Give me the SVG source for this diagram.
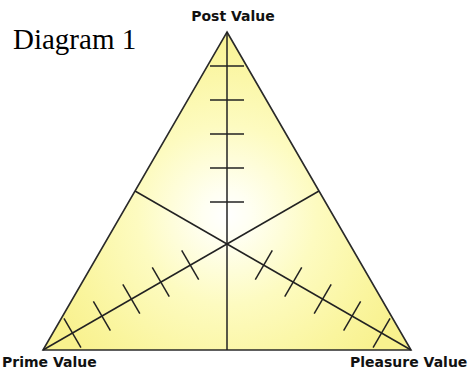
<svg xmlns="http://www.w3.org/2000/svg" width="470" height="372" viewBox="0 0 470 372">
  <defs>
    <radialGradient id="glow" gradientUnits="userSpaceOnUse" cx="227" cy="215" r="200">
      <stop offset="0" stop-color="#ffffff"/>
      <stop offset="0.12" stop-color="#fffff2"/>
      <stop offset="0.45" stop-color="#fdfbc0"/>
      <stop offset="0.8" stop-color="#faf59e"/>
      <stop offset="1" stop-color="#f8f18e"/>
    </radialGradient>
  </defs>
  <style>
    .edge { fill: url(#glow); stroke: #2a2a2a; stroke-width: 1.6; stroke-linejoin: miter; }
    .axis { stroke: #222; stroke-width: 1.5; fill: none; }
    .tick { stroke: #222; stroke-width: 1.5; fill: none; }
    .lbl { font-family: "DejaVu Sans", Verdana, sans-serif; font-weight: bold; font-size: 14px; fill: #111; }
    .title { font-family: "Liberation Serif", "Times New Roman", serif; font-size: 29px; fill: #000; }
  </style>
  <rect width="470" height="372" fill="#ffffff"/>
  <g id="triangle">
    <polygon class="edge" points="227,32 411,350 43,350"/>
  </g>
  <g id="connectors">
    <line class="axis" x1="227" y1="32" x2="227" y2="350"/>
    <line class="axis" x1="43" y1="350" x2="319" y2="191"/>
    <line class="axis" x1="411" y1="350" x2="135" y2="191"/>
    <g id="ticks-post">
      <line class="tick" x1="210" y1="66" x2="244" y2="66"/>
      <line class="tick" x1="210" y1="100" x2="244" y2="100"/>
      <line class="tick" x1="210" y1="134" x2="244" y2="134"/>
      <line class="tick" x1="210" y1="168" x2="244" y2="168"/>
      <line class="tick" x1="210" y1="202" x2="244" y2="202"/>
    </g>
    <g id="ticks-prime">
      <line class="tick" x1="63.94" y1="318.28" x2="80.94" y2="347.72"/>
      <line class="tick" x1="93.38" y1="301.28" x2="110.38" y2="330.72"/>
      <line class="tick" x1="122.82" y1="284.28" x2="139.82" y2="313.72"/>
      <line class="tick" x1="152.26" y1="267.28" x2="169.26" y2="296.72"/>
      <line class="tick" x1="181.7" y1="250.28" x2="198.7" y2="279.72"/>
    </g>
    <g id="ticks-pleasure">
      <line class="tick" x1="390.06" y1="318.28" x2="373.06" y2="347.72"/>
      <line class="tick" x1="360.62" y1="301.28" x2="343.62" y2="330.72"/>
      <line class="tick" x1="331.18" y1="284.28" x2="314.18" y2="313.72"/>
      <line class="tick" x1="301.74" y1="267.28" x2="284.74" y2="296.72"/>
      <line class="tick" x1="272.3" y1="250.28" x2="255.3" y2="279.72"/>
    </g>
  </g>
  <g id="node-post">
    <text class="lbl" x="233" y="20.5" text-anchor="middle">Post Value</text>
  </g>
  <g id="node-prime">
    <text class="lbl" x="2" y="367">Prime Value</text>
  </g>
  <g id="node-pleasure">
    <text class="lbl" x="350" y="367">Pleasure Value</text>
  </g>
  <g id="title">
    <text class="title" x="13" y="49">Diagram 1</text>
  </g>
</svg>
